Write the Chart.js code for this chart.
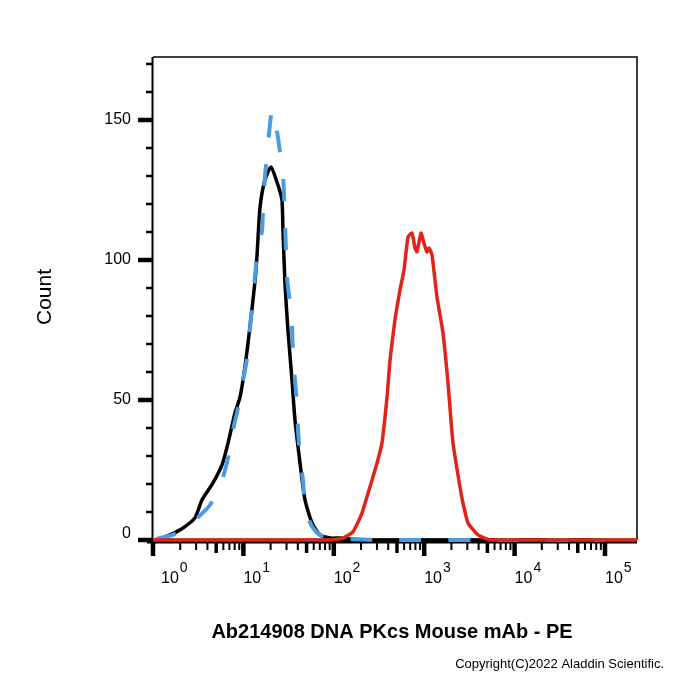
<!DOCTYPE html>
<html>
<head>
<meta charset="utf-8">
<script src="https://cdn.jsdelivr.net/npm/chart.js@4"></script>
<style>
  body { margin: 0; background: #fff; }
  #wrap { width: 700px; height: 700px; }
</style>
</head>
<body>
<div id="wrap"><canvas id="my_chart" width="700" height="700"></canvas></div>
<script>
// isotype / unstained (black solid)
var blackX = [1.11, 1.54, 2.15, 2.91, 3.48, 4.61, 5.80, 6.76, 8.07, 9.17, 10.4, 11.8, 13.4, 14.1, 15.3, 17.3, 20.2, 24.1, 26.7, 27.4, 28.9, 31.1, 34.5, 37.2, 42.3, 48.0, 57.4, 70.3, 90.7, 117, 160, 250, 1000, 10000, 100000]
var blackY = [0, 1.8, 4.3, 7.9, 14.3, 20.4, 26.8, 34.6, 45.4, 51, 61.8, 76, 92, 101, 119, 128.6, 133.2, 126.8, 121.4, 110.7, 91, 75, 57, 42.9, 27.5, 14.3, 6.1, 1.8, 0.7, 0.7, 0.3, 0, 0, 0, 0]

// control (blue dashed)
var blueX = [1.05, 1.19, 1.66, 2.26, 2.91, 4.27, 5.80, 6.76, 7.67, 8.71, 9.90, 11.0, 11.8, 12.4, 13.4, 14.1, 16.1, 16.5, 17.3, 18.2, 20.7, 23.5, 25.4, 27.4, 28.9, 30.3, 32.7, 34.5, 35.4, 37.2, 39.2, 40.2, 42.3, 45.6, 48.0, 53.2, 58.9, 70.3, 90.7, 160, 400, 5000, 100000]
var blueY = [0, 0.7, 1.8, 4.3, 7.1, 12.5, 21.4, 29.3, 39.3, 47.1, 57.1, 65, 75, 82.9, 93.9, 101, 110.7, 119, 129.6, 136.8, 153.6, 146, 138.6, 131, 113, 94, 84.6, 76, 66, 57, 48.2, 39.3, 29.6, 21.4, 11.8, 7.1, 4.3, 1.8, 0.7, 0.3, 0, 0, 0]

// DNA PKcs PE (red)
var redX = [1, 90.7, 126, 163, 205, 251, 301, 341, 388, 419, 475, 540, 598, 662, 733, 791, 832, 922, 995, 1074, 1130, 1220, 1386, 1615, 1834, 2083, 2490, 2686, 3052, 3940, 5346, 20000, 226000]
var redY = [0, 0, 0.7, 2.9, 9.6, 18.9, 27.5, 34.6, 51, 64.3, 78.6, 89.3, 96.4, 108.2, 109.6, 104.3, 102.9, 109.6, 106, 102.9, 104.3, 101.8, 86.8, 73.9, 56, 34.6, 18.9, 13.2, 6.1, 1.8, 0, 0, 0]

var yMajor = [0, 50, 100, 150]
var yMinor = [10, 20, 30, 40, 60, 70, 80, 90, 110, 120, 130, 140, 160, 170]
var xDecades = [0, 1, 2, 3, 4, 5]

var xTitle = "Ab214908 DNA PKcs Mouse mAb - PE"
var yTitle = "Count"
var copyright = "Copyright(C)2022 Aladdin Scientific."

function pts(xs, ys) {
  return xs.map((x, i) => ({x: x, y: ys[i]}))
}

const FONT = "Arial, 'Liberation Sans', sans-serif"

const axesPlugin = {
  id: 'flowAxes',
  beforeDatasetsDraw(chart) {
    const c = chart.ctx
    const a = chart.chartArea
    const xs = chart.scales.x
    const ys = chart.scales.y
    c.save()
    c.strokeStyle = '#000'
    // box top + right
    c.lineWidth = 1.5
    c.beginPath()
    c.moveTo(a.left, a.top); c.lineTo(a.right, a.top); c.lineTo(a.right, a.bottom)
    c.stroke()
    // left axis
    c.lineWidth = 2
    c.beginPath()
    c.moveTo(a.left - 0.5, a.top); c.lineTo(a.left - 0.5, a.bottom + 3)
    c.stroke()
    // bottom axis
    c.lineWidth = 5
    c.beginPath()
    c.moveTo(a.left - 6, a.bottom + 1); c.lineTo(a.right, a.bottom + 1)
    c.stroke()

    // y ticks
    yMajor.forEach(v => {
      const y = ys.getPixelForValue(v)
      c.lineWidth = 4.5
      c.beginPath(); c.moveTo(a.left - 15, y); c.lineTo(a.left, y); c.stroke()
    })
    yMinor.forEach(v => {
      const y = ys.getPixelForValue(v)
      c.lineWidth = 2.5
      c.beginPath(); c.moveTo(a.left - 7, y); c.lineTo(a.left, y); c.stroke()
    })
    c.fillStyle = '#000'
    c.font = '16px ' + FONT
    c.textAlign = 'right'
    c.textBaseline = 'middle'
    yMajor.forEach(v => {
      const y = ys.getPixelForValue(v)
      c.fillText(String(v), a.left - 22, v === 0 ? y - 6 : y)
    })

    // x ticks
    xDecades.forEach(d => {
      const x = xs.getPixelForValue(Math.pow(10, d))
      c.lineWidth = 4.5
      c.beginPath(); c.moveTo(x, a.bottom); c.lineTo(x, a.bottom + 16); c.stroke()
      if (d < 5) {
        for (let k = 2; k <= 9; k++) {
          const xm = xs.getPixelForValue(k * Math.pow(10, d))
          c.lineWidth = k === 5 ? 3.5 : 2
          c.beginPath(); c.moveTo(xm, a.bottom); c.lineTo(xm, a.bottom + (k === 5 ? 13 : 10)); c.stroke()
        }
      }
      // label 10^d
      const lx = d === 0 ? x + 8 : x
      c.textAlign = 'left'
      c.textBaseline = 'alphabetic'
      c.font = '16px ' + FONT
      c.fillText('10', lx, a.bottom + 43)
      const w = c.measureText('10').width
      c.font = '14px ' + FONT
      c.fillText(String(d), lx + w + 1, a.bottom + 32)
    })

    // titles
    c.font = 'bold 20px ' + FONT
    c.textAlign = 'center'
    c.textBaseline = 'alphabetic'
    c.fillText(xTitle, 392, 638)
    c.font = '13px ' + FONT
    c.textAlign = 'right'
    c.fillText(copyright, 664, 668)
    c.save()
    c.translate(51, 297)
    c.rotate(-Math.PI / 2)
    c.font = '21px ' + FONT
    c.textAlign = 'center'
    c.textBaseline = 'alphabetic'
    c.fillText(yTitle, 0, 0)
    c.restore()
    c.restore()
  }
}

ctx = document.getElementById("my_chart")
my_chart = new Chart(ctx, {
  type: 'scatter',
  data: {
    datasets: [
      {
        label: 'DNA PKcs',
        data: pts(redX, redY),
        showLine: true,
        borderColor: '#e2231a',
        borderWidth: 3.5,
        pointRadius: 0,
        tension: 0.15,
        clip: 6
      },
      {
        label: 'Control',
        data: pts(blueX, blueY),
        showLine: true,
        borderColor: '#4a9be0',
        borderWidth: 4,
        borderDash: [22, 27],
        pointRadius: 0,
        tension: 0.2,
        clip: 6
      },
      {
        label: 'Isotype',
        data: pts(blackX, blackY),
        showLine: true,
        borderColor: '#000000',
        borderWidth: 3.5,
        pointRadius: 0,
        tension: 0.2,
        clip: 6
      }
    ]
  },
  options: {
    responsive: false,
    animation: false,
    layout: { padding: { left: 153, top: 57, right: 63, bottom: 160 } },
    plugins: { legend: { display: false }, tooltip: { enabled: false } },
    scales: {
      x: { type: 'logarithmic', min: 1, max: 226000, display: false },
      y: { type: 'linear', min: 0, max: 172.5, display: false }
    }
  },
  plugins: [axesPlugin]
})
</script>
</body>
</html>
